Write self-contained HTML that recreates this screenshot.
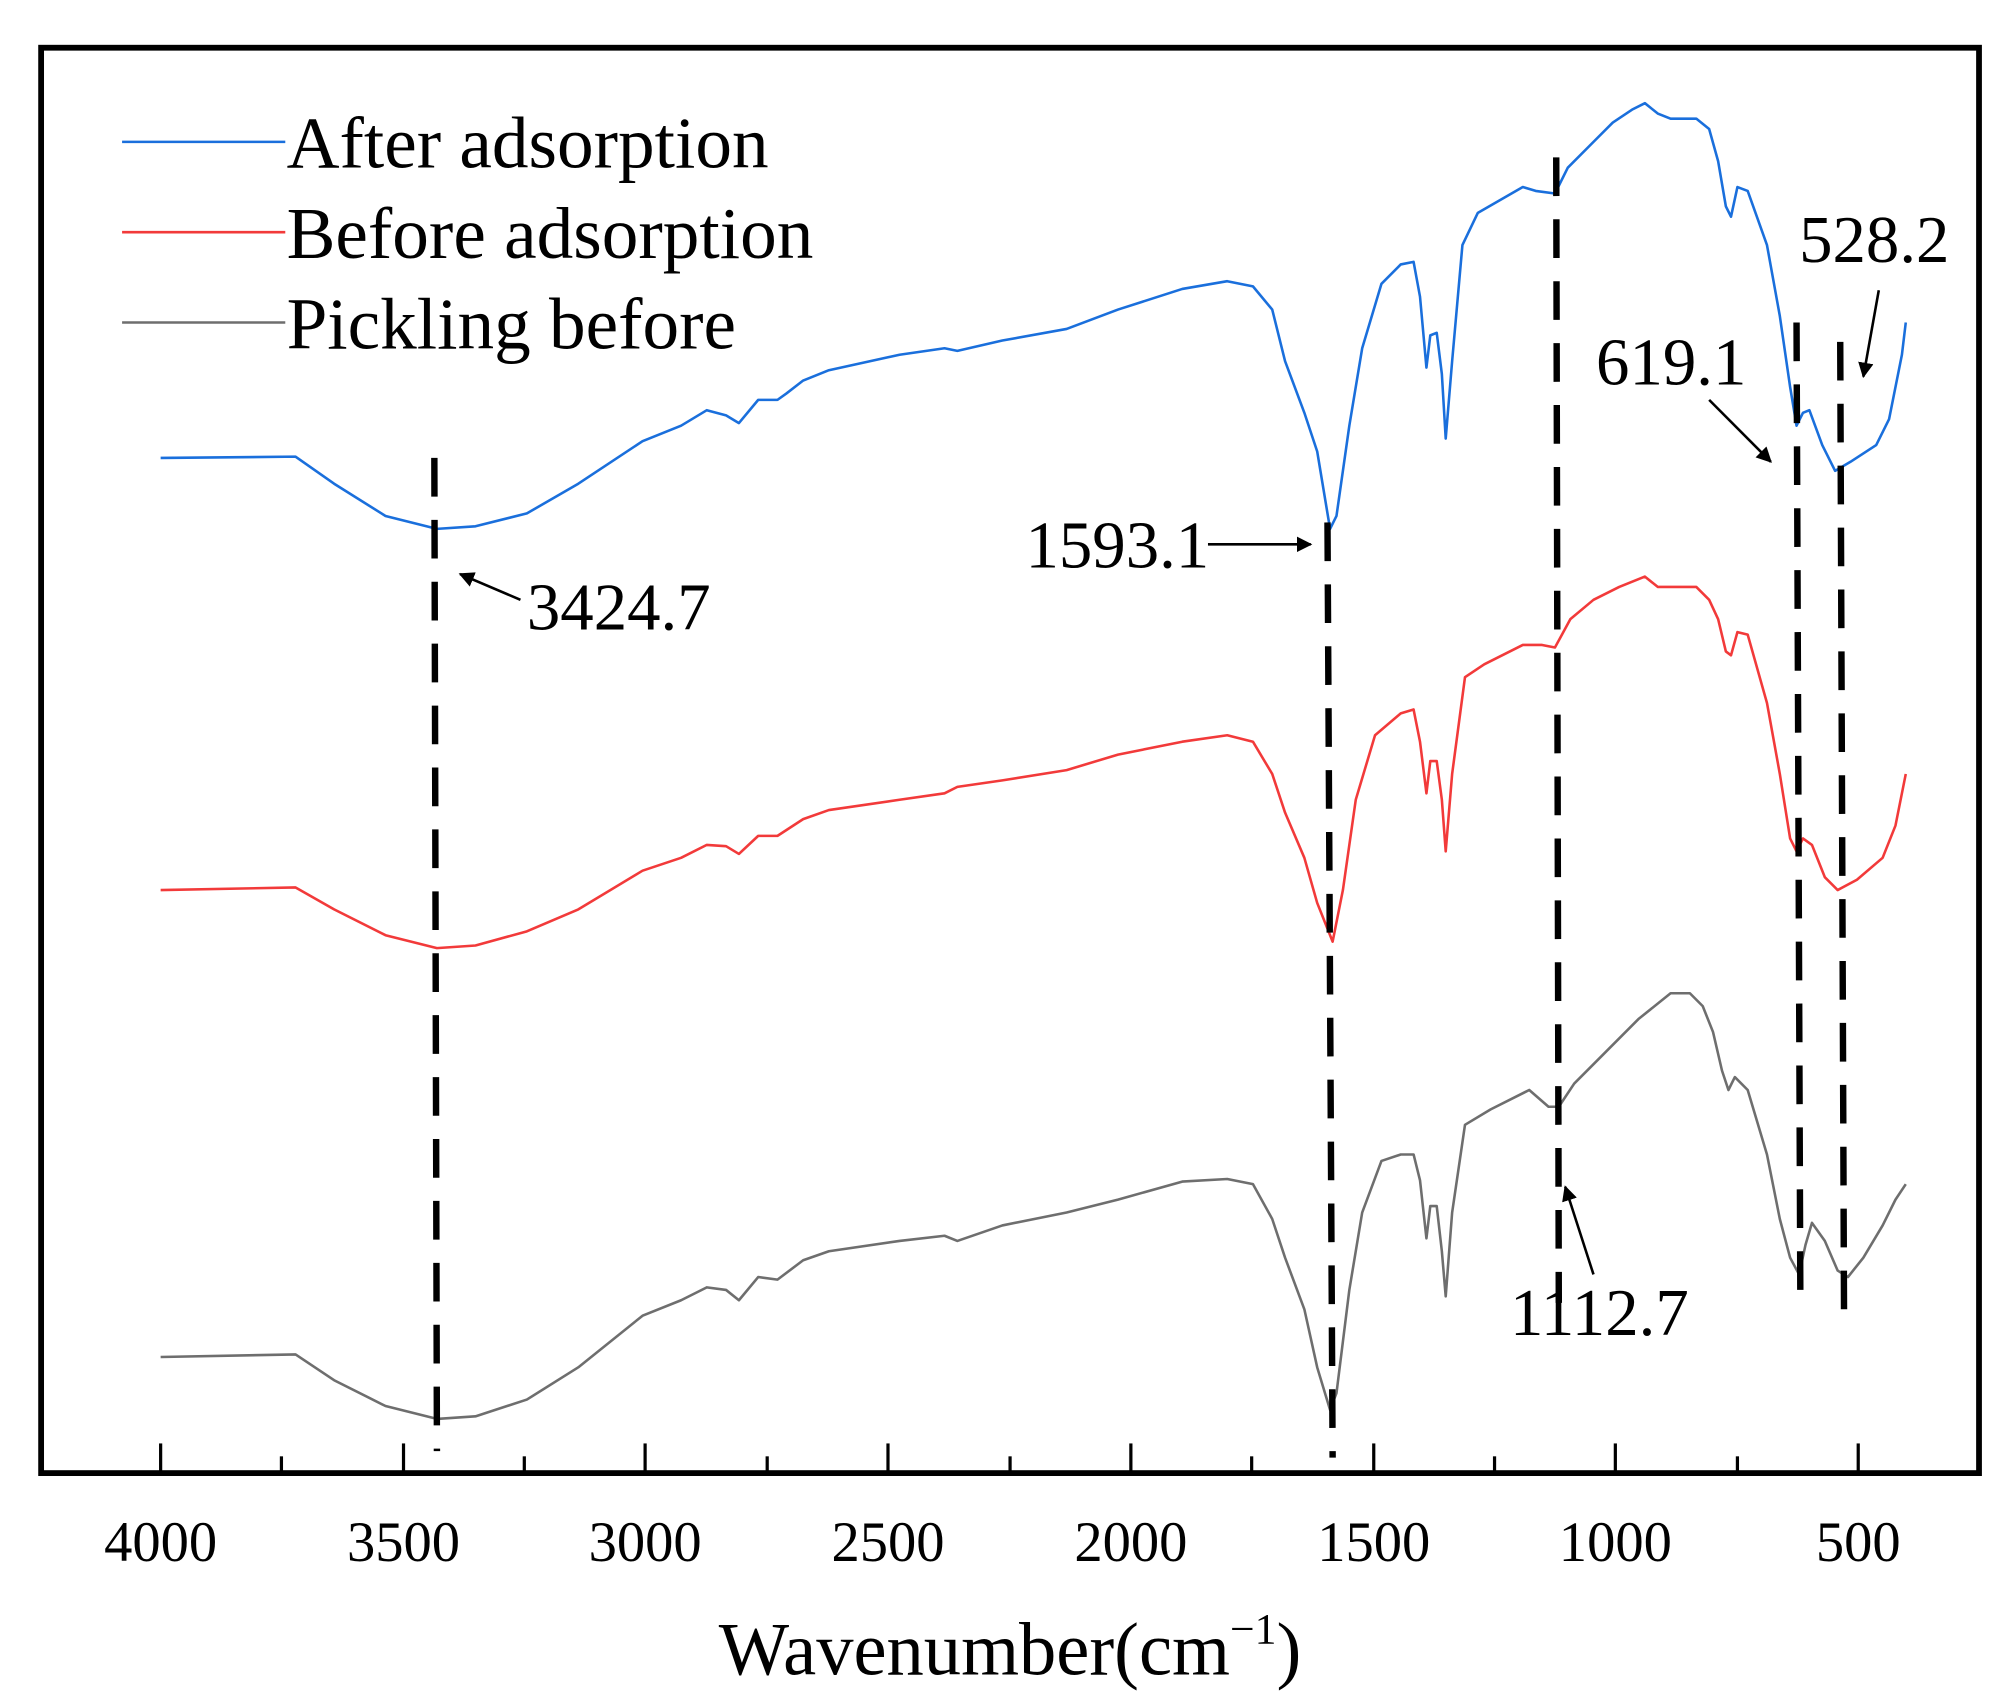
<!DOCTYPE html>
<html><head><meta charset="utf-8"><style>html,body{margin:0;padding:0;background:#fff}svg{display:block}</style></head>
<body>
<svg width="2015" height="1704" viewBox="0 0 1568 1321" preserveAspectRatio="none" xmlns="http://www.w3.org/2000/svg" font-family="'Liberation Serif', serif">
<defs><marker id="ar" viewBox="0 0 10 10" refX="9" refY="5" markerWidth="6" markerHeight="6" orient="auto"><path d="M0,0 L10,5 L0,10 z" fill="#000"/></marker></defs>
<rect x="32" y="37" width="1508" height="1105" fill="none" stroke="#000" stroke-width="4.5"/>
<g stroke="#000" stroke-width="2.5">
<line x1="125" y1="1141" x2="125" y2="1119"/><line x1="219" y1="1141" x2="219" y2="1129"/>
<line x1="314" y1="1141" x2="314" y2="1119"/><line x1="408" y1="1141" x2="408" y2="1129"/>
<line x1="502" y1="1141" x2="502" y2="1119"/><line x1="597" y1="1141" x2="597" y2="1129"/>
<line x1="691" y1="1141" x2="691" y2="1119"/><line x1="786" y1="1141" x2="786" y2="1129"/>
<line x1="880" y1="1141" x2="880" y2="1119"/><line x1="974" y1="1141" x2="974" y2="1129"/>
<line x1="1069" y1="1141" x2="1069" y2="1119"/><line x1="1163" y1="1141" x2="1163" y2="1129"/>
<line x1="1257" y1="1141" x2="1257" y2="1119"/><line x1="1352" y1="1141" x2="1352" y2="1129"/>
<line x1="1446" y1="1141" x2="1446" y2="1119"/>
</g>
<g font-size="44" text-anchor="middle">
<text x="125" y="1210">4000</text><text x="314" y="1210">3500</text><text x="502" y="1210">3000</text><text x="691" y="1210">2500</text><text x="880" y="1210">2000</text><text x="1069" y="1210">1500</text><text x="1257" y="1210">1000</text><text x="1446" y="1210">500</text>
</g>
<text x="786" y="1298" font-size="58" text-anchor="middle">Wavenumber(cm<tspan dy="-24" font-size="34">−1</tspan><tspan dy="24">)</tspan></text>
<g stroke-width="2" fill="none">
<line x1="95" y1="110" x2="222" y2="110" stroke="#1a6fdc"/>
<line x1="95" y1="180" x2="222" y2="180" stroke="#f23a3a"/>
<line x1="95" y1="250" x2="222" y2="250" stroke="#6e6e6e"/>
</g>
<g font-size="57"><text x="223" y="130">After adsorption</text><text x="223" y="200">Before adsorption</text><text x="223" y="270">Pickling before</text></g>
<g fill="none" stroke-width="2" stroke-linejoin="round">
<polyline stroke="#1a6fdc" points="125,355 230,354 260,375 300,400 340,410 370,408 410,398 450,375 500,342 530,330 550,318 565,322 575,328 590,310 605,310 612,305 625,295 645,287 700,275 735,270 745,272 780,264 830,255 870,240 920,224 955,218 975,222 990,240 1000,280 1015,320 1025,350 1035,410 1040,400 1050,330 1060,270 1075,220 1090,205 1100,203 1105,230 1110,285 1113,260 1118,258 1122,290 1125,340 1130,280 1138,190 1150,165 1185,145 1195,148 1210,150 1220,130 1240,110 1255,95 1270,85 1280,80 1290,88 1300,92 1320,92 1330,100 1337,125 1343,160 1347,168 1352,145 1360,148 1375,190 1385,245 1393,300 1398,330 1403,320 1408,318 1418,345 1428,365 1440,358 1460,345 1470,325 1480,275 1483,250"/>
<polyline stroke="#f23a3a" points="125,690 230,688 260,705 300,725 340,735 370,733 410,722 450,705 500,675 530,665 550,655 565,656 575,662 590,648 605,648 625,635 645,628 700,620 735,615 745,610 780,605 830,597 870,585 920,575 955,570 975,575 990,600 1000,630 1015,665 1025,700 1037,730 1045,690 1055,620 1070,570 1090,553 1100,550 1105,575 1110,615 1113,590 1118,590 1122,620 1125,660 1130,600 1140,525 1155,515 1185,500 1200,500 1210,502 1222,480 1240,465 1260,455 1280,447 1290,455 1305,455 1320,455 1330,465 1337,480 1343,505 1347,508 1352,490 1360,492 1375,545 1385,600 1393,650 1398,660 1403,650 1410,655 1420,680 1430,690 1445,682 1465,665 1475,640 1483,600"/>
<polyline stroke="#6e6e6e" points="125,1052 230,1050 260,1070 300,1090 340,1100 370,1098 410,1085 450,1060 500,1020 530,1008 550,998 565,1000 575,1008 590,990 605,992 625,977 645,970 700,962 735,958 745,962 780,950 830,940 870,930 920,916 955,914 975,918 990,945 1000,975 1015,1015 1025,1060 1035,1093 1040,1080 1050,1000 1060,940 1075,900 1090,895 1100,895 1105,915 1110,960 1113,935 1118,935 1122,970 1125,1005 1130,940 1140,872 1160,860 1190,845 1205,858 1213,858 1225,840 1250,815 1275,790 1300,770 1315,770 1325,780 1333,800 1340,830 1345,845 1350,835 1360,845 1375,895 1385,945 1393,975 1400,988 1405,965 1410,948 1420,962 1430,985 1438,990 1450,975 1465,950 1475,930 1483,918"/>
</g>
<g stroke="#000" stroke-width="5" stroke-dasharray="30,18">
<line x1="338" y1="355" x2="340" y2="1125"/>
<line x1="1033" y1="405" x2="1037" y2="1130"/>
<line x1="1211" y1="122" x2="1213" y2="1010"/>
<line x1="1398" y1="250" x2="1401" y2="1018"/>
<line x1="1432" y1="265" x2="1435" y2="1030"/>
</g>
<g stroke="#000" stroke-width="2" marker-end="url(#ar)">
<line x1="405" y1="465" x2="358" y2="445"/>
<line x1="940" y1="422" x2="1020" y2="422"/>
<line x1="1240" y1="988" x2="1218" y2="920"/>
<line x1="1330" y1="310" x2="1378" y2="358"/>
<line x1="1462" y1="225" x2="1450" y2="292"/>
</g>
<g font-size="52">
<text x="410" y="488">3424.7</text><text x="798" y="440">1593.1</text><text x="1175" y="1035">1112.7</text><text x="1242" y="298">619.1</text><text x="1400" y="203">528.2</text>
</g>
</svg>
</body></html>
